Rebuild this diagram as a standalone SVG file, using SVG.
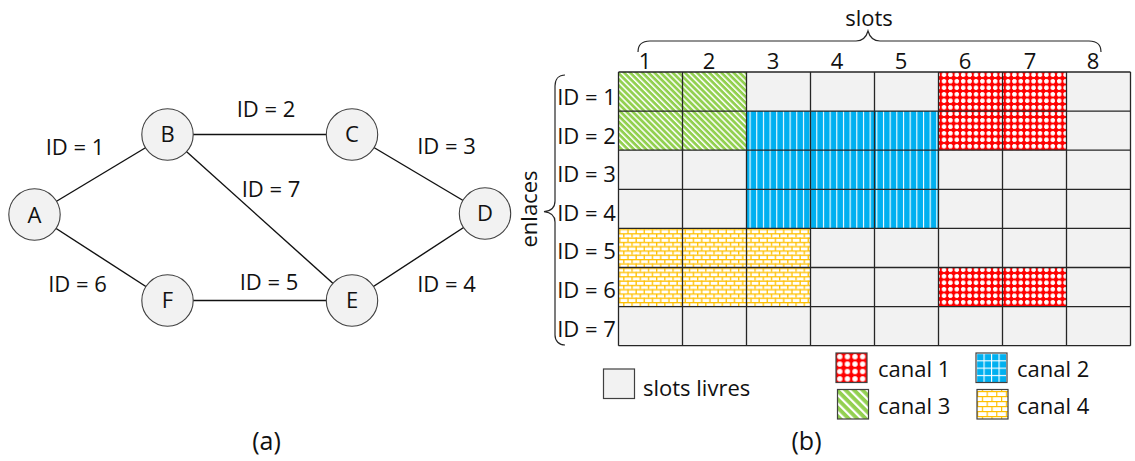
<svg xmlns="http://www.w3.org/2000/svg" width="1135" height="461" viewBox="0 0 1135 461">
<style>
  text { font-family: "Open Sans", "Noto Sans", sans-serif; font-size: 22px; fill: #111; }
  .mid { text-anchor: middle; }
  .node circle { fill: #f2f2f2; stroke: #404040; stroke-width: 1.1; }
  .edge { stroke: #111; stroke-width: 1.4; fill: none; }
  .grid { stroke: #262626; stroke-width: 1.3; fill: none; }
  .brace { stroke: #262626; stroke-width: 1.2; fill: none; }
  .lg { stroke: #404040; stroke-width: 1.2; }
  .cap { font-size: 25px; }
</style>
<defs>
  <pattern id="pRed" width="6.4" height="6.5" patternUnits="userSpaceOnUse">
    <rect width="6.4" height="6.5" fill="#ff0000"/>
    <rect x="1.0" y="1.85" width="4.4" height="2.8" fill="#fff"/>
    <rect x="1.8" y="1.05" width="2.8" height="4.4" fill="#fff"/>
  </pattern>
  <pattern id="pRedL" width="7.6" height="7.4" patternUnits="userSpaceOnUse" x="836" y="353">
    <rect width="7.6" height="7.4" fill="#ff0000"/>
    <rect x="1.2" y="2.1" width="5.2" height="3.2" fill="#fff"/>
    <rect x="2.2" y="1.1" width="3.2" height="5.2" fill="#fff"/>
  </pattern>
  <pattern id="pBlue" width="6.67" height="10" patternUnits="userSpaceOnUse" x="2.5">
    <rect width="6.67" height="10" fill="#00b0f0"/>
    <rect x="0" y="0" width="1.1" height="10" fill="#fff"/>
  </pattern>
  <pattern id="pBlueL" width="7.5" height="7.3" patternUnits="userSpaceOnUse" x="976" y="353">
    <rect width="7.5" height="7.3" fill="#00b0f0"/>
    <rect x="0" y="0" width="1.1" height="7.3" fill="#fff"/>
    <rect x="0" y="0" width="7.5" height="1.1" fill="#fff"/>
  </pattern>
  <pattern id="pGreen" width="4.3" height="10" patternUnits="userSpaceOnUse" patternTransform="rotate(-45)">
    <rect width="4.3" height="10" fill="#92d050"/>
    <rect x="0" y="0" width="1.5" height="10" fill="#fff"/>
  </pattern>
  <pattern id="pGreenL" width="6" height="10" patternUnits="userSpaceOnUse" patternTransform="rotate(-45)">
    <rect width="6" height="10" fill="#92d050"/>
    <rect x="0" y="0" width="2.2" height="10" fill="#fff"/>
  </pattern>
  <pattern id="pYel" width="8.2" height="8.6" patternUnits="userSpaceOnUse" y="1">
    <rect width="8.2" height="8.6" fill="#fff"/>
    <rect x="0" y="0" width="8.2" height="1.3" fill="#ffc000"/>
    <rect x="0" y="4.3" width="8.2" height="1.3" fill="#ffc000"/>
    <rect x="0" y="0" width="1.3" height="4.3" fill="#ffc000"/>
    <rect x="4.1" y="4.3" width="1.3" height="4.3" fill="#ffc000"/>
  </pattern>
  <pattern id="pYelL" width="9.6" height="10" patternUnits="userSpaceOnUse" x="977" y="391">
    <rect width="9.6" height="10" fill="#fff"/>
    <rect x="0" y="0" width="9.6" height="1.2" fill="#ffc000"/>
    <rect x="0" y="5" width="9.6" height="1.2" fill="#ffc000"/>
    <rect x="0" y="0" width="1.2" height="5" fill="#ffc000"/>
    <rect x="4.8" y="5" width="1.2" height="5" fill="#ffc000"/>
  </pattern>
</defs>
<rect width="1135" height="461" fill="#fff"/>

<!-- (a) network graph -->
<g id="connectors">
  <line class="edge" x1="34.5" y1="214.5" x2="167.5" y2="134.5"/>
  <line class="edge" x1="167.5" y1="134.5" x2="352" y2="134.5"/>
  <line class="edge" x1="352" y1="134.5" x2="485" y2="213.5"/>
  <line class="edge" x1="485" y1="213.5" x2="352" y2="300.5"/>
  <line class="edge" x1="167.5" y1="300.5" x2="352" y2="300.5"/>
  <line class="edge" x1="34.5" y1="214.5" x2="167.5" y2="300.5"/>
  <line class="edge" x1="167.5" y1="134.5" x2="352" y2="300.5"/>
</g>
<g id="edge-labels">
  <text class="mid" x="75" y="155">ID = 1</text>
  <text class="mid" x="266" y="117">ID = 2</text>
  <text class="mid" x="446.5" y="154">ID = 3</text>
  <text class="mid" x="271" y="197">ID = 7</text>
  <text class="mid" x="77.5" y="292">ID = 6</text>
  <text class="mid" x="269" y="290">ID = 5</text>
  <text class="mid" x="446.5" y="292">ID = 4</text>
</g>
<g id="node-A" class="node"><circle cx="34.5" cy="214.5" r="25.7"/><text class="mid" x="34.5" y="222.5">A</text></g>
<g id="node-B" class="node"><circle cx="167.5" cy="134.5" r="25.7"/><text class="mid" x="167.5" y="141.5">B</text></g>
<g id="node-C" class="node"><circle cx="352" cy="134.5" r="25.7"/><text class="mid" x="352" y="141.5">C</text></g>
<g id="node-D" class="node"><circle cx="485" cy="213.5" r="25.7"/><text class="mid" x="485" y="221">D</text></g>
<g id="node-E" class="node"><circle cx="352" cy="300.5" r="25.7"/><text class="mid" x="352" y="308">E</text></g>
<g id="node-F" class="node"><circle cx="167.5" cy="300.5" r="25.7"/><text class="mid" x="167.5" y="308">F</text></g>
<text class="mid cap" x="266.5" y="450">(a)</text>

<!-- (b) spectrum grid -->
<g id="slots-header">
  <text class="mid" x="869" y="26">slots</text>
  <path class="brace" d="M638,52 C638,45 642,41 650,41 L856,41 C862,41 866,38 868,31 C870,38 874,41 880,41 L1089,41 C1097,41 1101,45 1101,52"/>
  <text class="mid" x="645" y="68.5">1</text>
  <text class="mid" x="709" y="68.5">2</text>
  <text class="mid" x="773" y="68.5">3</text>
  <text class="mid" x="837" y="68.5">4</text>
  <text class="mid" x="901" y="68.5">5</text>
  <text class="mid" x="965" y="68.5">6</text>
  <text class="mid" x="1030" y="68.5">7</text>
  <text class="mid" x="1093" y="68.5">8</text>
</g>
<g id="links-header">
  <text class="mid" transform="translate(537,209) rotate(-90)" x="0" y="0">enlaces</text>
  <path class="brace" d="M565,75 C559,75 555,79 555,86 L555,201 C555,207 551,211 544,211.7 C551,212.5 555,216 555,222 L555,335 C555,341 559,345 565,345"/>
  <text class="mid" x="586.5" y="105">ID = 1</text>
  <text class="mid" x="586.5" y="143.6">ID = 2</text>
  <text class="mid" x="586.5" y="182.2">ID = 3</text>
  <text class="mid" x="586.5" y="220.8">ID = 4</text>
  <text class="mid" x="586.5" y="259.4">ID = 5</text>
  <text class="mid" x="586.5" y="298">ID = 6</text>
  <text class="mid" x="586.5" y="336.6">ID = 7</text>
</g>
<g id="grid">
  <rect x="618.5" y="72" width="512" height="273.7" fill="#f2f2f2"/>
  <rect x="618.5" y="72" width="128" height="78.2" fill="url(#pGreen)"/>
  <rect x="938.5" y="72" width="128" height="78.2" fill="url(#pRed)"/>
  <rect x="746.5" y="111.1" width="192" height="117.3" fill="url(#pBlue)"/>
  <rect x="618.5" y="228.4" width="192" height="78.2" fill="url(#pYel)"/>
  <rect x="938.5" y="267.5" width="128" height="39.1" fill="url(#pRed)"/>
  <path class="grid" d="M618.5,72V345.7M682.5,72V345.7M746.5,72V345.7M810.5,72V345.7M874.5,72V345.7M938.5,72V345.7M1002.5,72V345.7M1066.5,72V345.7M1130.5,72V345.7M618.5,72H1130.5M618.5,111.1H1130.5M618.5,150.2H1130.5M618.5,189.3H1130.5M618.5,228.4H1130.5M618.5,267.5H1130.5M618.5,306.6H1130.5M618.5,345.7H1130.5"/>
</g>
<g id="legend">
  <rect class="lg" x="603.5" y="369" width="31" height="29.5" fill="#f2f2f2"/>
  <text x="643" y="396">slots livres</text>
  <rect class="lg" x="836" y="353" width="31" height="29.5" fill="url(#pRedL)"/>
  <text x="878" y="377">canal 1</text>
  <rect class="lg" x="976" y="353" width="31" height="29.5" fill="url(#pBlueL)"/>
  <text x="1017" y="377">canal 2</text>
  <rect class="lg" x="837.5" y="389.5" width="31" height="29.5" fill="url(#pGreenL)"/>
  <text x="878" y="414">canal 3</text>
  <rect class="lg" x="977" y="389.5" width="31" height="29.5" fill="url(#pYelL)"/>
  <text x="1017" y="414">canal 4</text>
</g>
<text class="mid cap" x="806.5" y="450">(b)</text>
</svg>
